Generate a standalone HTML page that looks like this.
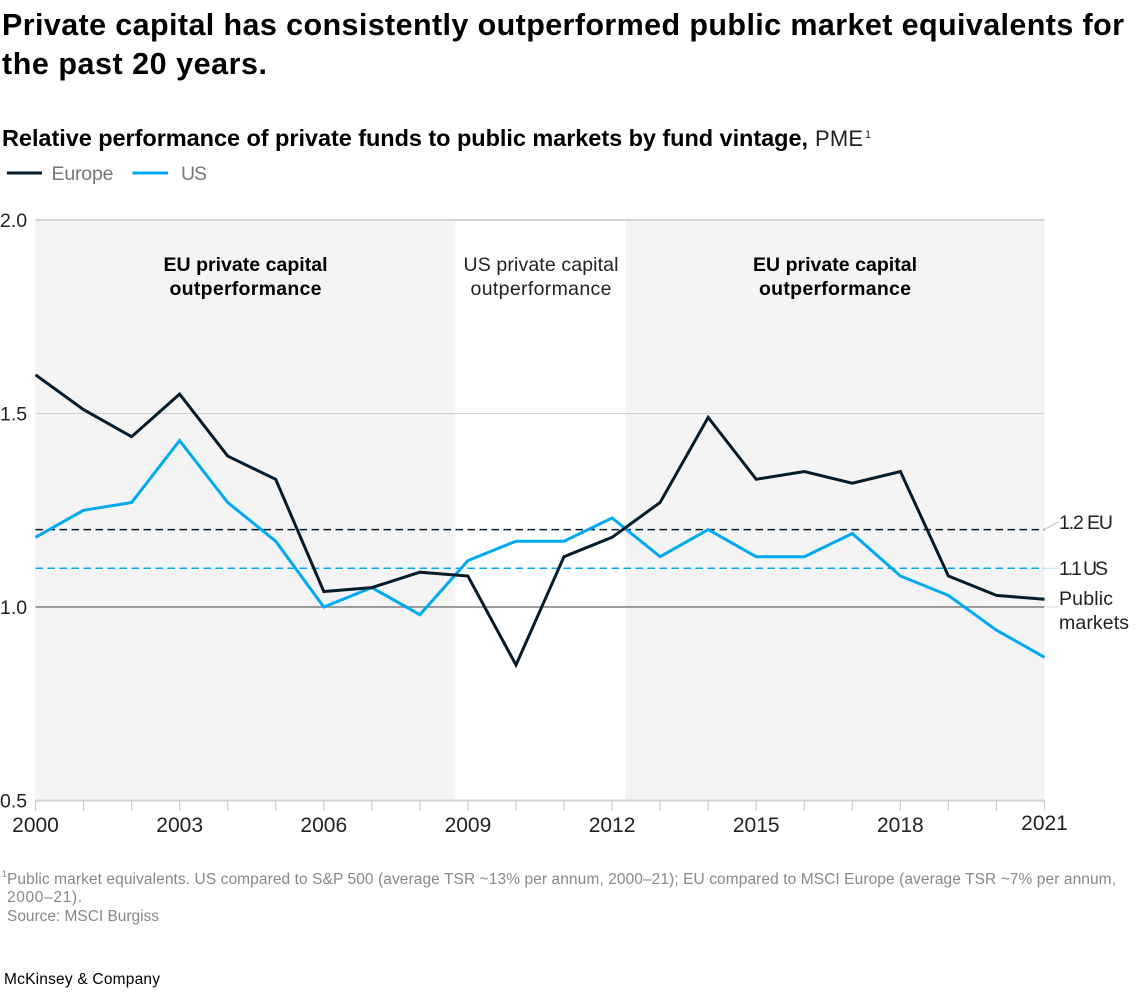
<!DOCTYPE html>
<html lang="en">
<head>
<meta charset="utf-8">
<title>Private capital vs public market equivalents</title>
<style>
html,body{margin:0;padding:0;background:#fff;}
body{width:1146px;height:992px;overflow:hidden;font-family:"Liberation Sans",sans-serif;}
svg{display:block;}
text{font-family:"Liberation Sans",sans-serif;}
</style>
</head>
<body>
<svg id="chart" width="1146" height="992" viewBox="0 0 1146 992" xmlns="http://www.w3.org/2000/svg">
  <text x="2" y="35" font-size="30.5" font-weight="700" fill="#000" textLength="1122" lengthAdjust="spacing">Private capital has consistently outperformed public market equivalents for</text>
  <text x="2" y="74" font-size="30.5" font-weight="700" fill="#000" textLength="265" lengthAdjust="spacing">the past 20 years.</text>
  <text x="2" y="146" font-size="23.5" font-weight="700" fill="#000" textLength="806" lengthAdjust="spacing">Relative performance of private funds to public markets by fund vintage,</text>
  <text x="815" y="146" font-size="22" fill="#222" textLength="48" lengthAdjust="spacing">PME</text>
  <text x="865" y="138" font-size="11" fill="#222">1</text>

  <g>
    <line x1="7" y1="173" x2="42" y2="173" stroke="#051C2C" stroke-width="3"/>
    <text x="51.5" y="180" font-size="19.5" fill="#777" textLength="62" lengthAdjust="spacing">Europe</text>
    <line x1="132.5" y1="173" x2="168" y2="173" stroke="#00A9F4" stroke-width="3"/>
    <text x="181" y="180" font-size="19.5" fill="#777" textLength="26" lengthAdjust="spacing">US</text>
  </g>

  <g id="bands"></g>
  <g id="grid"></g>
  <g id="ticks"></g>
  <g id="series"></g>
  <g id="labels"></g>

  <g font-size="19.5" text-anchor="middle">
    <text x="245.5" y="271" font-weight="700" fill="#000" textLength="164" lengthAdjust="spacing">EU private capital</text>
    <text x="245.5" y="295" font-weight="700" fill="#000" textLength="152" lengthAdjust="spacing">outperformance</text>
    <text x="541" y="271" fill="#222" textLength="155" lengthAdjust="spacing">US private capital</text>
    <text x="541" y="295" fill="#222" textLength="141" lengthAdjust="spacing">outperformance</text>
    <text x="835" y="271" font-weight="700" fill="#000" textLength="164" lengthAdjust="spacing">EU private capital</text>
    <text x="835" y="295" font-weight="700" fill="#000" textLength="152" lengthAdjust="spacing">outperformance</text>
  </g>

  <g font-size="15.5" fill="#888">
    <text x="2" y="877" font-size="9">1</text>
    <text x="7" y="884" textLength="1109" lengthAdjust="spacing">Public market equivalents. US compared to S&amp;P 500 (average TSR ~13% per annum, 2000–21); EU compared to MSCI Europe (average TSR ~7% per annum,</text>
    <text x="7" y="902" textLength="75" lengthAdjust="spacing">2000–21).</text>
    <text x="7" y="921" textLength="152" lengthAdjust="spacing">Source: MSCI Burgiss</text>
  </g>
  <text x="4" y="984" font-size="15.5" fill="#000" textLength="156" lengthAdjust="spacing">McKinsey &amp; Company</text>
</svg>

<script>
var years = [2000,2001,2002,2003,2004,2005,2006,2007,2008,2009,2010,2011,2012,2013,2014,2015,2016,2017,2018,2019,2020,2021];
var europeValues = [1.60,1.51,1.44,1.55,1.39,1.33,1.04,1.05,1.09,1.08,0.85,1.13,1.18,1.27,1.49,1.33,1.35,1.32,1.35,1.08,1.03,1.02];
var usValues = [1.18,1.25,1.27,1.43,1.27,1.17,1.00,1.05,0.98,1.12,1.17,1.17,1.23,1.13,1.20,1.13,1.13,1.19,1.08,1.03,0.94,0.87];
var yTickValues = [2.0,1.5,1.0,0.5];
var yTickLabels = ["2.0","1.5","1.0","0.5"];
var xTickLabels = ["2000","2003","2006","2009","2012","2015","2018","2021"];
var xTickYears = [2000,2003,2006,2009,2012,2015,2018,2021];
var europeAverage = 1.2;
var usAverage = 1.1;
var publicMarkets = 1.0;
var bandRanges = [[1999.99,2008.74],[2012.28,2021]];

var NS = "http://www.w3.org/2000/svg";
function xScale(year){ return 35.5 + (year - 2000) * (1009 / 21); }
function yScale(v){ return 607 - (v - 1) * 387; }
function make(parent, tag, attrs, txt){
  var el = document.createElementNS(NS, tag);
  for (var k in attrs) el.setAttribute(k, attrs[k]);
  if (txt !== undefined) el.textContent = txt;
  document.getElementById(parent).appendChild(el);
  return el;
}

bandRanges.forEach(function(r){
  var el = make("bands","rect",{x:xScale(r[0]),y:yScale(2),width:xScale(r[1])-xScale(r[0]),height:yScale(0.5)-yScale(2),fill:"#F4F4F4"});
  
  
});

yTickValues.forEach(function(v){
  if (v === publicMarkets) return;
  var ln = make("grid","line",{x1:xScale(2000),x2:xScale(2021),y1:yScale(v),y2:yScale(v),stroke:v===1.5?"#d0d0d0":"#d4d4d4","stroke-width":v===1.5?1:2});
  
  
});
yTickLabels.forEach(function(t,i){
  var lb = make("labels","text",{x:0,y:yScale(yTickValues[i])+7,"font-size":19.5,fill:"#222"},t);
  
  
});

years.forEach(function(y){
  var tk = make("ticks","line",{x1:xScale(y),x2:xScale(y),y1:yScale(0.5),y2:yScale(0.5)+10,stroke:"#cccccc","stroke-width":1.2});
  
  
});
xTickLabels.forEach(function(t,i){
  var last = i === xTickLabels.length - 1;
  var lb = make("labels","text",{x:xScale(xTickYears[i]),y:last?830:832,"font-size":21,fill:"#222","text-anchor":"middle"},t);
  
  
});

var eLine = make("series","line",{x1:xScale(2000),x2:xScale(2021),y1:yScale(europeAverage),y2:yScale(europeAverage),stroke:"#051C2C","stroke-width":1.5,"stroke-dasharray":"7.5 4.5"});


var uLine = make("series","line",{x1:xScale(2000),x2:xScale(2021),y1:yScale(usAverage),y2:yScale(usAverage),stroke:"#00A9F4","stroke-width":1.5,"stroke-dasharray":"7.5 4.5"});


var pLine = make("series","line",{x1:xScale(2000),x2:xScale(2021),y1:yScale(publicMarkets),y2:yScale(publicMarkets),stroke:"#7f7f7f","stroke-width":1.5});



function pts(vals){ return vals.map(function(v,i){ return xScale(years[i]).toFixed(1)+","+yScale(v).toFixed(1); }).join(" "); }
var usPath = make("series","polyline",{points:pts(usValues),fill:"none",stroke:"#00A9F4","stroke-width":3,"stroke-linejoin":"miter"});


var euPath = make("series","polyline",{points:pts(europeValues),fill:"none",stroke:"#051C2C","stroke-width":3,"stroke-linejoin":"miter"});



var c1 = make("labels","line",{x1:1044,y1:yScale(europeAverage),x2:1059,y2:yScale(europeAverage)-8,stroke:"#bbbbbb","stroke-width":1});


var c2 = make("labels","line",{x1:1044,y1:yScale(usAverage),x2:1059,y2:yScale(usAverage),stroke:"#bfe6fb","stroke-width":1});


var c3 = make("labels","line",{x1:1044,y1:yScale(publicMarkets),x2:1059,y2:yScale(publicMarkets),stroke:"#dddddd","stroke-width":1});



var t1 = make("labels","text",{x:1059,y:529,"font-size":19.5,fill:"#222",textLength:54,lengthAdjust:"spacing"},"1.2 EU");


var t2 = make("labels","text",{x:1059,y:575,"font-size":19.5,fill:"#222",textLength:49,lengthAdjust:"spacing"},"1.1 US");


var t3 = make("labels","text",{x:1059,y:605,"font-size":19.5,fill:"#222",textLength:54,lengthAdjust:"spacing"},"Public");


var t4 = make("labels","text",{x:1059,y:629,"font-size":19.5,fill:"#222",textLength:70,lengthAdjust:"spacing"},"markets");


</script>
</body>
</html>
